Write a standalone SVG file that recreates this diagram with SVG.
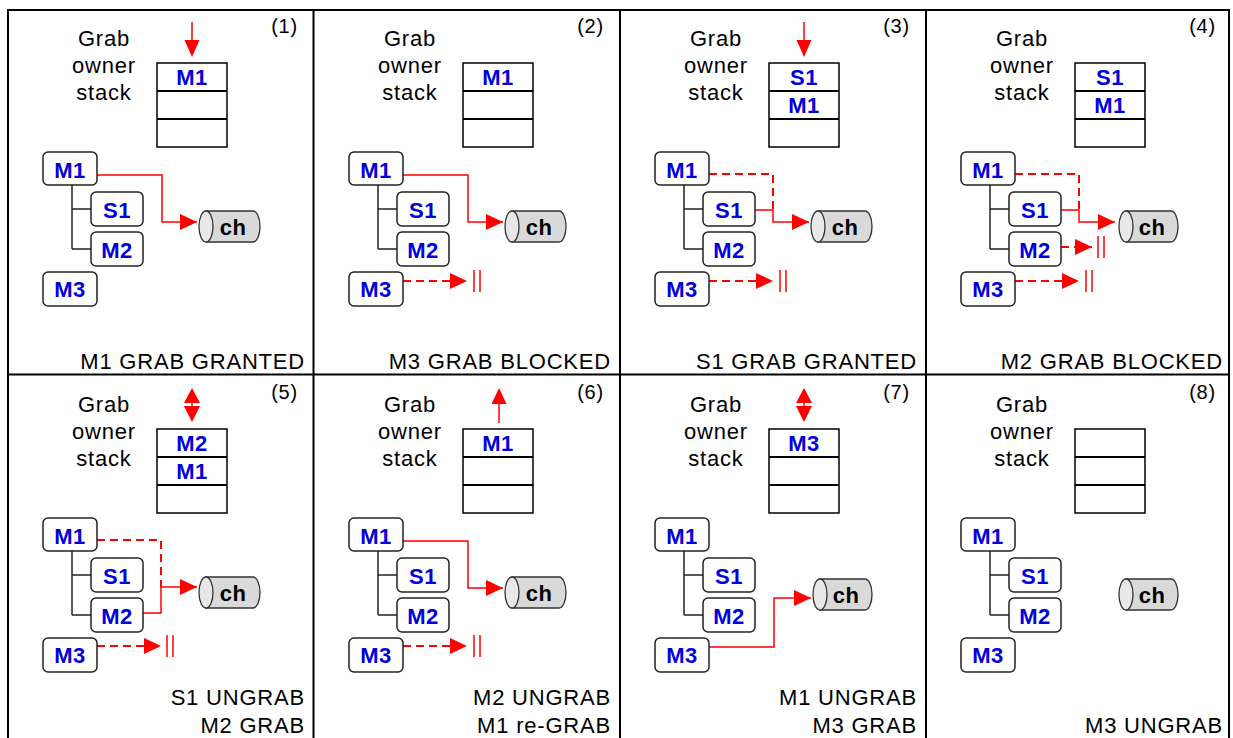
<svg xmlns="http://www.w3.org/2000/svg" width="1233" height="738" viewBox="0 0 1233 738">
<style>
text{font-family:"Liberation Sans",Arial,sans-serif}
.lbl{font-size:22px;fill:#000;letter-spacing:0.8px}
.mid{text-anchor:middle}
.end{text-anchor:end}
.num{font-size:20px}
.nd rect{fill:#fff;stroke:#222;stroke-width:1.5}
.nt{font-size:22px;font-weight:bold;fill:#0000dd;text-anchor:middle;letter-spacing:0.5px}
.sb{fill:#fff;stroke:#000;stroke-width:1.5}
.sd{stroke:#000;stroke-width:2}
.tree{stroke:#222;stroke-width:1.5;fill:none}
.sol{stroke:#f00;stroke-width:1.5;fill:none}
.dsh{stroke:#f00;stroke-width:2;fill:none;stroke-dasharray:8 5}
.bar{stroke:#f00;stroke-width:1.5}
.rf{fill:#f00}
.cyb{fill:#d9d9d9;stroke:#333;stroke-width:1.3}
.cye{fill:#e8e8e8;stroke:#333;stroke-width:1.3}
.cht{font-size:22px;font-weight:bold;fill:#000;text-anchor:middle;letter-spacing:0.5px}
.frame{stroke:#000;stroke-width:2;fill:none}
</style>
<defs>
<marker id="ah" markerUnits="userSpaceOnUse" markerWidth="18" markerHeight="16" refX="17" refY="8" orient="auto">
<path d="M0,0 L17,8 L0,16 Z" fill="#f00"/>
</marker>
</defs>
<rect width="1233" height="738" fill="#fff"/>
<g id="frame">
<rect class="frame" x="8" y="10" width="1221" height="730"/>
<line class="frame" x1="313.5" y1="10" x2="313.5" y2="738"/>
<line class="frame" x1="620" y1="10" x2="620" y2="738"/>
<line class="frame" x1="926" y1="10" x2="926" y2="738"/>
<line class="frame" x1="8" y1="374.5" x2="1229" y2="374.5"/>
</g>

<!-- Panel 1 -->
<g id="panel1">
<text class="lbl mid" x="104" y="46">Grab</text>
<text class="lbl mid" x="104" y="73">owner</text>
<text class="lbl mid" x="104" y="100">stack</text>
<text class="lbl num end" x="298" y="33">(1)</text>
<g id="p1-stack"><rect class="sb" x="157" y="63" width="70" height="84"/><line class="sd" x1="157" y1="91" x2="227" y2="91"/><line class="sd" x1="157" y1="119" x2="227" y2="119"/><text class="nt" x="192" y="85">M1</text></g>
<g id="p1-push"><line class="sol" x1="192" y1="22" x2="192" y2="42"/><path class="rf" d="M184.5,40 L199.5,40 L192,57 Z"/></g>
<g id="p1-connectors">
<path class="tree" d="M72,185 V249 M72,209 H91 M72,249 H91"/>
<path class="sol" d="M97,175 H162 V222 H197" marker-end="url(#ah)"/>
</g>
<g id="p1-M1" class="nd"><rect x="43" y="152" width="54" height="33" rx="5"/><text class="nt" x="70" y="178">M1</text></g>
<g id="p1-S1" class="nd"><rect x="91" y="192" width="52" height="34" rx="5"/><text class="nt" x="117" y="218">S1</text></g>
<g id="p1-M2" class="nd"><rect x="91" y="232" width="52" height="34" rx="5"/><text class="nt" x="117" y="258">M2</text></g>
<g id="p1-M3" class="nd"><rect x="43" y="272" width="54" height="34" rx="5"/><text class="nt" x="70" y="297">M3</text></g>
<g id="p1-ch"><path class="cyb" d="M206,211 H253 A7,15.5 0 0 1 253,242 H206 Z"/><ellipse class="cye" cx="206" cy="226.5" rx="7" ry="15.5"/><text class="cht" x="233" y="235">ch</text></g>
<text class="lbl end" x="305" y="369">M1 GRAB GRANTED</text>
</g>

<!-- Panel 2 -->
<g id="panel2" transform="translate(306,0)">
<text class="lbl mid" x="104" y="46">Grab</text>
<text class="lbl mid" x="104" y="73">owner</text>
<text class="lbl mid" x="104" y="100">stack</text>
<text class="lbl num end" x="298" y="33">(2)</text>
<g id="p2-stack"><rect class="sb" x="157" y="63" width="70" height="84"/><line class="sd" x1="157" y1="91" x2="227" y2="91"/><line class="sd" x1="157" y1="119" x2="227" y2="119"/><text class="nt" x="192" y="85">M1</text></g>
<g id="p2-connectors">
<path class="tree" d="M72,185 V249 M72,209 H91 M72,249 H91"/>
<path class="sol" d="M97,175 H162 V222 H197" marker-end="url(#ah)"/>
<path class="dsh" d="M97,281 H161" marker-end="url(#ah)"/>
<line class="bar" x1="168" y1="270" x2="168" y2="292"/><line class="bar" x1="174" y1="270" x2="174" y2="292"/>
</g>
<g id="p2-M1" class="nd"><rect x="43" y="152" width="54" height="33" rx="5"/><text class="nt" x="70" y="178">M1</text></g>
<g id="p2-S1" class="nd"><rect x="91" y="192" width="52" height="34" rx="5"/><text class="nt" x="117" y="218">S1</text></g>
<g id="p2-M2" class="nd"><rect x="91" y="232" width="52" height="34" rx="5"/><text class="nt" x="117" y="258">M2</text></g>
<g id="p2-M3" class="nd"><rect x="43" y="272" width="54" height="34" rx="5"/><text class="nt" x="70" y="297">M3</text></g>
<g id="p2-ch"><path class="cyb" d="M206,211 H253 A7,15.5 0 0 1 253,242 H206 Z"/><ellipse class="cye" cx="206" cy="226.5" rx="7" ry="15.5"/><text class="cht" x="233" y="235">ch</text></g>
<text class="lbl end" x="305" y="369">M3 GRAB BLOCKED</text>
</g>

<!-- Panel 3 -->
<g id="panel3" transform="translate(612,0)">
<text class="lbl mid" x="104" y="46">Grab</text>
<text class="lbl mid" x="104" y="73">owner</text>
<text class="lbl mid" x="104" y="100">stack</text>
<text class="lbl num end" x="298" y="33">(3)</text>
<g id="p3-stack"><rect class="sb" x="157" y="63" width="70" height="84"/><line class="sd" x1="157" y1="91" x2="227" y2="91"/><line class="sd" x1="157" y1="119" x2="227" y2="119"/><text class="nt" x="192" y="85">S1</text><text class="nt" x="192" y="113">M1</text></g>
<g id="p3-push"><line class="sol" x1="192" y1="22" x2="192" y2="42"/><path class="rf" d="M184.5,40 L199.5,40 L192,57 Z"/></g>
<g id="p3-connectors">
<path class="tree" d="M72,185 V249 M72,209 H91 M72,249 H91"/>
<path class="dsh" d="M97,174 H161 V210"/>
<path class="sol" d="M143,210 H161 V222 H197" marker-end="url(#ah)"/>
<path class="dsh" d="M97,281 H161" marker-end="url(#ah)"/>
<line class="bar" x1="168" y1="270" x2="168" y2="292"/><line class="bar" x1="174" y1="270" x2="174" y2="292"/>
</g>
<g id="p3-M1" class="nd"><rect x="43" y="152" width="54" height="33" rx="5"/><text class="nt" x="70" y="178">M1</text></g>
<g id="p3-S1" class="nd"><rect x="91" y="192" width="52" height="34" rx="5"/><text class="nt" x="117" y="218">S1</text></g>
<g id="p3-M2" class="nd"><rect x="91" y="232" width="52" height="34" rx="5"/><text class="nt" x="117" y="258">M2</text></g>
<g id="p3-M3" class="nd"><rect x="43" y="272" width="54" height="34" rx="5"/><text class="nt" x="70" y="297">M3</text></g>
<g id="p3-ch"><path class="cyb" d="M206,211 H253 A7,15.5 0 0 1 253,242 H206 Z"/><ellipse class="cye" cx="206" cy="226.5" rx="7" ry="15.5"/><text class="cht" x="233" y="235">ch</text></g>
<text class="lbl end" x="305" y="369">S1 GRAB GRANTED</text>
</g>

<!-- Panel 4 -->
<g id="panel4" transform="translate(918,0)">
<text class="lbl mid" x="104" y="46">Grab</text>
<text class="lbl mid" x="104" y="73">owner</text>
<text class="lbl mid" x="104" y="100">stack</text>
<text class="lbl num end" x="298" y="33">(4)</text>
<g id="p4-stack"><rect class="sb" x="157" y="63" width="70" height="84"/><line class="sd" x1="157" y1="91" x2="227" y2="91"/><line class="sd" x1="157" y1="119" x2="227" y2="119"/><text class="nt" x="192" y="85">S1</text><text class="nt" x="192" y="113">M1</text></g>
<g id="p4-connectors">
<path class="tree" d="M72,185 V249 M72,209 H91 M72,249 H91"/>
<path class="dsh" d="M97,174 H161 V210"/>
<path class="sol" d="M143,210 H161 V222 H197" marker-end="url(#ah)"/>
<path class="dsh" d="M143,247 H174" marker-end="url(#ah)"/>
<line class="bar" x1="180" y1="236" x2="180" y2="258"/><line class="bar" x1="186" y1="236" x2="186" y2="258"/>
<path class="dsh" d="M97,281 H161" marker-end="url(#ah)"/>
<line class="bar" x1="168" y1="270" x2="168" y2="292"/><line class="bar" x1="174" y1="270" x2="174" y2="292"/>
</g>
<g id="p4-M1" class="nd"><rect x="43" y="152" width="54" height="33" rx="5"/><text class="nt" x="70" y="178">M1</text></g>
<g id="p4-S1" class="nd"><rect x="91" y="192" width="52" height="34" rx="5"/><text class="nt" x="117" y="218">S1</text></g>
<g id="p4-M2" class="nd"><rect x="91" y="232" width="52" height="34" rx="5"/><text class="nt" x="117" y="258">M2</text></g>
<g id="p4-M3" class="nd"><rect x="43" y="272" width="54" height="34" rx="5"/><text class="nt" x="70" y="297">M3</text></g>
<g id="p4-ch"><path class="cyb" d="M208,211 H253 A7,15.5 0 0 1 253,242 H208 Z"/><ellipse class="cye" cx="208" cy="226.5" rx="7" ry="15.5"/><text class="cht" x="234" y="235">ch</text></g>
<text class="lbl end" x="305" y="369">M2 GRAB BLOCKED</text>
</g>

<!-- Panel 5 -->
<g id="panel5" transform="translate(0,366)">
<text class="lbl mid" x="104" y="46">Grab</text>
<text class="lbl mid" x="104" y="73">owner</text>
<text class="lbl mid" x="104" y="100">stack</text>
<text class="lbl num end" x="298" y="33">(5)</text>
<g id="p5-stack"><rect class="sb" x="157" y="63" width="70" height="84"/><line class="sd" x1="157" y1="91" x2="227" y2="91"/><line class="sd" x1="157" y1="119" x2="227" y2="119"/><text class="nt" x="192" y="85">M2</text><text class="nt" x="192" y="113">M1</text></g>
<g id="p5-swap"><path class="rf" d="M184,37 L200,37 L192,22 Z"/><path class="rf" d="M184,40 L200,40 L192,56 Z"/><line class="sol" x1="192" y1="36" x2="192" y2="41"/></g>
<g id="p5-connectors">
<path class="tree" d="M72,185 V249 M72,209 H91 M72,249 H91"/>
<path class="dsh" d="M97,174 H161 V221"/>
<path class="sol" d="M143,247 H161 V221 H197" marker-end="url(#ah)"/>
<path class="dsh" d="M97,280 H161" marker-end="url(#ah)"/>
<line class="bar" x1="167" y1="269" x2="167" y2="291"/><line class="bar" x1="173" y1="269" x2="173" y2="291"/>
</g>
<g id="p5-M1" class="nd"><rect x="43" y="152" width="54" height="33" rx="5"/><text class="nt" x="70" y="178">M1</text></g>
<g id="p5-S1" class="nd"><rect x="91" y="192" width="52" height="34" rx="5"/><text class="nt" x="117" y="218">S1</text></g>
<g id="p5-M2" class="nd"><rect x="91" y="232" width="52" height="34" rx="5"/><text class="nt" x="117" y="258">M2</text></g>
<g id="p5-M3" class="nd"><rect x="43" y="272" width="54" height="34" rx="5"/><text class="nt" x="70" y="297">M3</text></g>
<g id="p5-ch"><path class="cyb" d="M206,211 H253 A7,15.5 0 0 1 253,242 H206 Z"/><ellipse class="cye" cx="206" cy="226.5" rx="7" ry="15.5"/><text class="cht" x="233" y="235">ch</text></g>
<text class="lbl end" x="305" y="339">S1 UNGRAB</text>
<text class="lbl end" x="305" y="367">M2 GRAB</text>
</g>

<!-- Panel 6 -->
<g id="panel6" transform="translate(306,366)">
<text class="lbl mid" x="104" y="46">Grab</text>
<text class="lbl mid" x="104" y="73">owner</text>
<text class="lbl mid" x="104" y="100">stack</text>
<text class="lbl num end" x="298" y="33">(6)</text>
<g id="p6-stack"><rect class="sb" x="157" y="63" width="70" height="84"/><line class="sd" x1="157" y1="91" x2="227" y2="91"/><line class="sd" x1="157" y1="119" x2="227" y2="119"/><text class="nt" x="192" y="85">M1</text></g>
<g id="p6-pop"><line class="sol" x1="193" y1="57" x2="193" y2="36"/><path class="rf" d="M185.5,38 L200.5,38 L193,22 Z"/></g>
<g id="p6-connectors">
<path class="tree" d="M72,185 V249 M72,209 H91 M72,249 H91"/>
<path class="sol" d="M97,175 H162 V222 H197" marker-end="url(#ah)"/>
<path class="dsh" d="M97,280 H161" marker-end="url(#ah)"/>
<line class="bar" x1="168" y1="269" x2="168" y2="291"/><line class="bar" x1="174" y1="269" x2="174" y2="291"/>
</g>
<g id="p6-M1" class="nd"><rect x="43" y="152" width="54" height="33" rx="5"/><text class="nt" x="70" y="178">M1</text></g>
<g id="p6-S1" class="nd"><rect x="91" y="192" width="52" height="34" rx="5"/><text class="nt" x="117" y="218">S1</text></g>
<g id="p6-M2" class="nd"><rect x="91" y="232" width="52" height="34" rx="5"/><text class="nt" x="117" y="258">M2</text></g>
<g id="p6-M3" class="nd"><rect x="43" y="272" width="54" height="34" rx="5"/><text class="nt" x="70" y="297">M3</text></g>
<g id="p6-ch"><path class="cyb" d="M206,211 H253 A7,15.5 0 0 1 253,242 H206 Z"/><ellipse class="cye" cx="206" cy="226.5" rx="7" ry="15.5"/><text class="cht" x="233" y="235">ch</text></g>
<text class="lbl end" x="305" y="339">M2 UNGRAB</text>
<text class="lbl end" x="305" y="367">M1 re-GRAB</text>
</g>

<!-- Panel 7 -->
<g id="panel7" transform="translate(612,366)">
<text class="lbl mid" x="104" y="46">Grab</text>
<text class="lbl mid" x="104" y="73">owner</text>
<text class="lbl mid" x="104" y="100">stack</text>
<text class="lbl num end" x="298" y="33">(7)</text>
<g id="p7-stack"><rect class="sb" x="157" y="63" width="70" height="84"/><line class="sd" x1="157" y1="91" x2="227" y2="91"/><line class="sd" x1="157" y1="119" x2="227" y2="119"/><text class="nt" x="192" y="85">M3</text></g>
<g id="p7-swap"><path class="rf" d="M184,37 L200,37 L192,22 Z"/><path class="rf" d="M184,40 L200,40 L192,56 Z"/><line class="sol" x1="192" y1="36" x2="192" y2="41"/></g>
<g id="p7-connectors">
<path class="tree" d="M72,185 V249 M72,209 H91 M72,249 H91"/>
<path class="sol" d="M97,281 H162 V232 H199" marker-end="url(#ah)"/>
</g>
<g id="p7-M1" class="nd"><rect x="43" y="152" width="54" height="33" rx="5"/><text class="nt" x="70" y="178">M1</text></g>
<g id="p7-S1" class="nd"><rect x="91" y="192" width="52" height="34" rx="5"/><text class="nt" x="117" y="218">S1</text></g>
<g id="p7-M2" class="nd"><rect x="91" y="232" width="52" height="34" rx="5"/><text class="nt" x="117" y="258">M2</text></g>
<g id="p7-M3" class="nd"><rect x="43" y="272" width="54" height="34" rx="5"/><text class="nt" x="70" y="297">M3</text></g>
<g id="p7-ch"><path class="cyb" d="M208,213 H253 A7,15.5 0 0 1 253,244 H208 Z"/><ellipse class="cye" cx="208" cy="228.5" rx="7" ry="15.5"/><text class="cht" x="234" y="237">ch</text></g>
<text class="lbl end" x="305" y="339">M1 UNGRAB</text>
<text class="lbl end" x="305" y="367">M3 GRAB</text>
</g>

<!-- Panel 8 -->
<g id="panel8" transform="translate(918,366)">
<text class="lbl mid" x="104" y="46">Grab</text>
<text class="lbl mid" x="104" y="73">owner</text>
<text class="lbl mid" x="104" y="100">stack</text>
<text class="lbl num end" x="298" y="33">(8)</text>
<g id="p8-stack"><rect class="sb" x="157" y="63" width="70" height="84"/><line class="sd" x1="157" y1="91" x2="227" y2="91"/><line class="sd" x1="157" y1="119" x2="227" y2="119"/></g>
<g id="p8-connectors">
<path class="tree" d="M72,185 V249 M72,209 H91 M72,249 H91"/>
</g>
<g id="p8-M1" class="nd"><rect x="43" y="152" width="54" height="33" rx="5"/><text class="nt" x="70" y="178">M1</text></g>
<g id="p8-S1" class="nd"><rect x="91" y="192" width="52" height="34" rx="5"/><text class="nt" x="117" y="218">S1</text></g>
<g id="p8-M2" class="nd"><rect x="91" y="232" width="52" height="34" rx="5"/><text class="nt" x="117" y="258">M2</text></g>
<g id="p8-M3" class="nd"><rect x="43" y="272" width="54" height="34" rx="5"/><text class="nt" x="70" y="297">M3</text></g>
<g id="p8-ch"><path class="cyb" d="M208,213 H253 A7,15.5 0 0 1 253,244 H208 Z"/><ellipse class="cye" cx="208" cy="228.5" rx="7" ry="15.5"/><text class="cht" x="234" y="237">ch</text></g>
<text class="lbl end" x="305" y="367">M3 UNGRAB</text>
</g>
</svg>
